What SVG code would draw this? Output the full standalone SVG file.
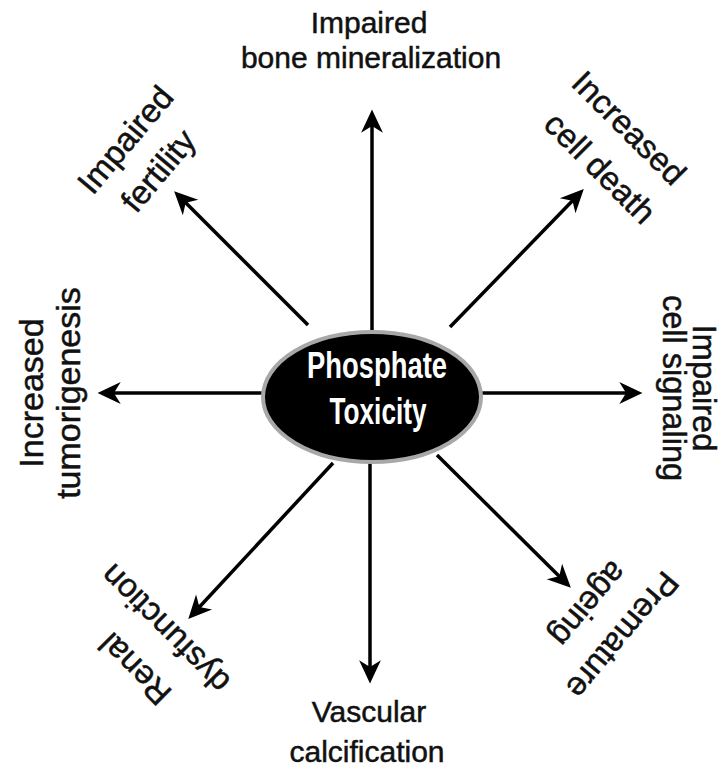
<svg xmlns="http://www.w3.org/2000/svg" width="721" height="775" viewBox="0 0 721 775">
<style>
.lbl{font-family:"Liberation Sans",Arial,sans-serif;font-size:34px;fill:#111;stroke:#111;stroke-width:0.5;text-anchor:middle}
.lt{font-size:30px}
.dg{font-size:33px}
.rs{font-size:32.5px}
.ctr{font-family:"Liberation Sans",Arial,sans-serif;font-weight:bold;font-size:36px;fill:#fff;text-anchor:middle}
.arr{stroke:#000;stroke-width:3.5;fill:none;marker-end:url(#ah)}
</style>
<defs>
<marker id="ah" markerUnits="userSpaceOnUse" markerWidth="30" markerHeight="30" viewBox="-16 -10 22 20" refX="0" refY="0" orient="auto">
<path d="M4,0 L-13,-8 L-8,0 L-13,8 Z" fill="#000"/>
</marker>
</defs>
<rect width="721" height="775" fill="#fff"/>
<g id="connectors">
<line class="arr" x1="372" y1="332" x2="372" y2="115"/>
<line class="arr" x1="370" y1="463" x2="370" y2="678"/>
<line class="arr" x1="262" y1="393" x2="103" y2="393"/>
<line class="arr" x1="481" y1="393" x2="637" y2="393"/>
<line class="arr" x1="308" y1="325" x2="178" y2="195"/>
<line class="arr" x1="450" y1="327" x2="580" y2="193"/>
<line class="arr" x1="333" y1="463" x2="192" y2="615"/>
<line class="arr" x1="437" y1="455" x2="567" y2="584"/>
</g>
<g id="center">
<ellipse cx="372" cy="397" rx="109" ry="65" fill="#000" stroke="#a8a8a8" stroke-width="4"/>
<text class="ctr" x="377" y="378" textLength="140" lengthAdjust="spacingAndGlyphs">Phosphate</text>
<text class="ctr" x="378" y="424" textLength="97" lengthAdjust="spacingAndGlyphs">Toxicity</text>
</g>
<g id="bone">
<text class="lbl lt" x="369" y="33">Impaired</text>
<text class="lbl lt" x="371" y="68">bone mineralization</text>
</g>
<g id="vascular">
<text class="lbl lt" x="369" y="722">Vascular</text>
<text class="lbl lt" x="367" y="762">calcification</text>
</g>
<g id="tumor" transform="translate(0,393) rotate(-90)">
<text class="lbl" x="0" y="43">Increased</text>
<text class="lbl" x="0" y="80">tumorigenesis</text>
</g>
<g id="signaling" transform="translate(693,388) rotate(90)">
<text class="lbl rs" x="0" y="0">Impaired</text>
<text class="lbl rs" x="0" y="30">cell signaling</text>
</g>
<g id="fertility">
<text class="lbl dg" transform="translate(134,147) rotate(-50)">Impaired</text>
<text class="lbl dg" transform="translate(167,178) rotate(-50)">fertility</text>
</g>
<g id="celldeath">
<text class="lbl dg" transform="translate(621,136) rotate(45)">Increased</text>
<text class="lbl dg" transform="translate(592,176) rotate(45)">cell death</text>
</g>
<g id="renal">
<text class="lbl dg" transform="translate(143,661) rotate(-135)">Renal</text>
<text class="lbl dg" transform="translate(173,621) rotate(-135)">dysfunction</text>
</g>
<g id="ageing">
<text class="lbl dg" transform="translate(614,628) rotate(130)">Premature</text>
<text class="lbl dg" transform="translate(580,597) rotate(130)">ageing</text>
</g>
</svg>
